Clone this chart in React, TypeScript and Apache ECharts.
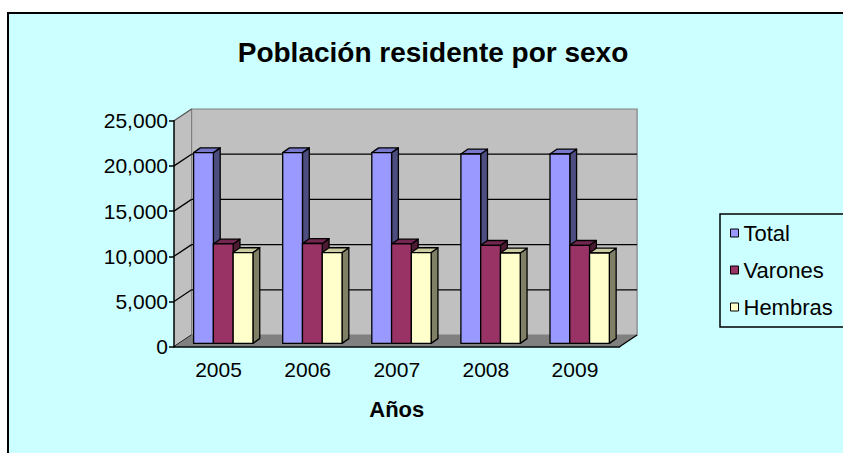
import React, { useEffect, useRef } from 'react';
import * as echarts from 'echarts';

const categories = ['2005', '2006', '2007', '2008', '2009'];
const totalValues = [21100, 21100, 21100, 20950, 20950];
const varonesValues = [11000, 11050, 11000, 10850, 10850];
const hembrasValues = [10050, 10050, 10050, 10000, 10000];
const yTicks = [0, 5000, 10000, 15000, 20000, 25000];
const seriesNames = ['Total', 'Varones', 'Hembras'];
const seriesValues = [totalValues, varonesValues, hembrasValues];

const FACE = ['#9999FF', '#993366', '#FFFFCC'];
const SIDE = ['#4D4D80', '#4D1A33', '#808066'];
const TOP = ['#7777CC', '#732650', '#CCCCA3'];

const FONT = '"Liberation Sans", Arial, sans-serif';
const DEPTH = [17.6, -11.7];
const BAR_DY = -3.3;
const BAR_DEPTH = [6.8, -4.8];
const BAR_START = 0.22;
const BAR_W = 0.222;
const Y_MAX = 25000;

const makeBarRender = (si: number) => (params: any, api: any) => {
  const cat = api.value(0);
  const v = api.value(1);
  const p0 = api.coord([cat, 0]);
  const p1 = api.coord([cat, v]);
  const bw = api.size([1, 0])[0];
  const xl = p0[0] - bw / 2 + bw * (BAR_START + si * BAR_W);
  const xr = xl + bw * BAR_W;
  const yb = p0[1] + BAR_DY;
  const yt = p1[1] + BAR_DY;
  const [dx, dy] = BAR_DEPTH;
  const st = { stroke: '#000', lineWidth: 1.3, lineJoin: 'round' };
  return {
    type: 'group',
    children: [
      {
        type: 'polygon',
        shape: { points: [[xr, yt], [xr + dx, yt + dy], [xr + dx, yb + dy], [xr, yb]] },
        style: { fill: SIDE[si], ...st },
      },
      {
        type: 'polygon',
        shape: { points: [[xl, yt], [xr, yt], [xr + dx, yt + dy], [xl + dx, yt + dy]] },
        style: { fill: TOP[si], ...st },
      },
      {
        type: 'rect',
        shape: { x: xl, y: yt, width: xr - xl, height: yb - yt },
        style: { fill: FACE[si], ...st },
      },
    ],
  };
};

const renderWalls = (params: any, api: any) => {
  const cs = params.coordSys;
  const left = cs.x;
  const right = cs.x + cs.width;
  const yTop = api.coord([0, Y_MAX])[1];
  const y0 = api.coord([0, 0])[1];
  const [dx, dy] = DEPTH;
  const children: any[] = [];
  children.push({
    type: 'polygon',
    shape: { points: [[left, yTop], [left + dx, yTop + dy], [left + dx, y0 + dy], [left, y0]] },
    style: { fill: '#C0C0C0', stroke: null },
  });
  children.push({
    type: 'rect',
    shape: { x: left + dx, y: yTop + dy, width: right - left, height: y0 - yTop },
    style: { fill: '#C0C0C0', stroke: '#808080', lineWidth: 1.2 },
  });
  yTicks.forEach((t) => {
    const y = api.coord([0, t])[1];
    if (t > 0 && t < Y_MAX) {
      children.push({
        type: 'line',
        shape: { x1: left + dx, y1: y + dy, x2: right + dx, y2: y + dy },
        style: { stroke: '#000', lineWidth: 1.3 },
      });
    }
    children.push({
      type: 'line',
      shape: { x1: left, y1: y, x2: left + dx, y2: y + dy },
      style: { stroke: t === Y_MAX ? '#555' : '#000', lineWidth: 1.3 },
    });
  });
  children.push({
    type: 'polygon',
    shape: { points: [[left, y0], [right, y0], [right + dx, y0 + dy], [left + dx, y0 + dy]] },
    style: { fill: '#808080', stroke: null },
  });
  children.push({
    type: 'line',
    shape: { x1: right, y1: y0, x2: right + dx, y2: y0 + dy },
    style: { stroke: '#000', lineWidth: 1.3 },
  });
  return { type: 'group', children };
};

export default function App() {
  const ref = useRef<HTMLDivElement>(null);
  useEffect(() => {
    if (!ref.current) return;
    const chart = echarts.init(ref.current, undefined, { renderer: 'svg' });
    const barSeries = seriesNames.map((name, si) => ({
      type: 'custom',
      name,
      z: 3,
      itemStyle: { color: FACE[si] },
      renderItem: makeBarRender(si),
      data: seriesValues[si].map((v, i) => [i, v]),
    }));
    chart.setOption({
      animation: false,
      backgroundColor: 'transparent',
      graphic: [
        {
          type: 'rect',
          z: -10,
          shape: { x: 8, y: 13, width: 1000, height: 1000 },
          style: { fill: '#CCFFFF', stroke: '#000', lineWidth: 2 },
        },
      ],
      title: {
        text: 'Población residente por sexo',
        left: 428,
        top: 33,
        textAlign: 'center',
        textStyle: { fontSize: 28, fontWeight: 'bold', color: '#000', fontFamily: FONT },
      },
      legend: {
        orient: 'vertical',
        left: 720,
        top: 214,
        data: seriesNames,
        icon: 'rect',
        itemWidth: 8,
        itemHeight: 8,
        itemGap: 15,
        padding: [8, 40, 9, 10],
        borderColor: '#000',
        borderWidth: 1.5,
        selectedMode: false,
        textStyle: { fontSize: 22, color: '#000', fontFamily: FONT },
        itemStyle: { borderColor: '#000', borderWidth: 1 },
      },
      grid: { left: 174, right: 223.5, top: 120.7, bottom: 106.3, containLabel: false },
      xAxis: {
        type: 'category',
        data: categories,
        boundaryGap: true,
        z: 5,
        axisLine: { lineStyle: { color: '#000', width: 1.5 } },
        axisTick: { length: 7, lineStyle: { color: '#000', width: 1.5 } },
        axisLabel: { fontSize: 21, color: '#000', margin: 12, fontFamily: FONT },
        splitLine: { show: false },
        name: 'Años',
        nameLocation: 'middle',
        nameGap: 52,
        nameTextStyle: { fontSize: 22, fontWeight: 'bold', color: '#000', fontFamily: FONT },
      },
      yAxis: {
        type: 'value',
        min: 0,
        max: Y_MAX,
        interval: 5000,
        z: 5,
        axisLine: { show: true, lineStyle: { color: '#000', width: 1.5 } },
        axisTick: { show: true, length: 5, lineStyle: { color: '#000', width: 1.5 } },
        splitLine: { show: false },
        axisLabel: {
          fontSize: 21,
          color: '#000',
          margin: 6,
          fontFamily: FONT,
          formatter: (v: number) => v.toLocaleString('en-US'),
        },
      },
      series: [
        {
          type: 'custom',
          name: 'walls',
          z: 1,
          silent: true,
          renderItem: renderWalls,
          data: [[0, 0]],
        },
        ...barSeries,
      ],
    });
    return () => chart.dispose();
  }, []);
  return (
    <div
      ref={ref}
      style={{ position: 'absolute', left: 0, top: 0, width: 843, height: 453, background: '#fff' }}
    />
  );
}
